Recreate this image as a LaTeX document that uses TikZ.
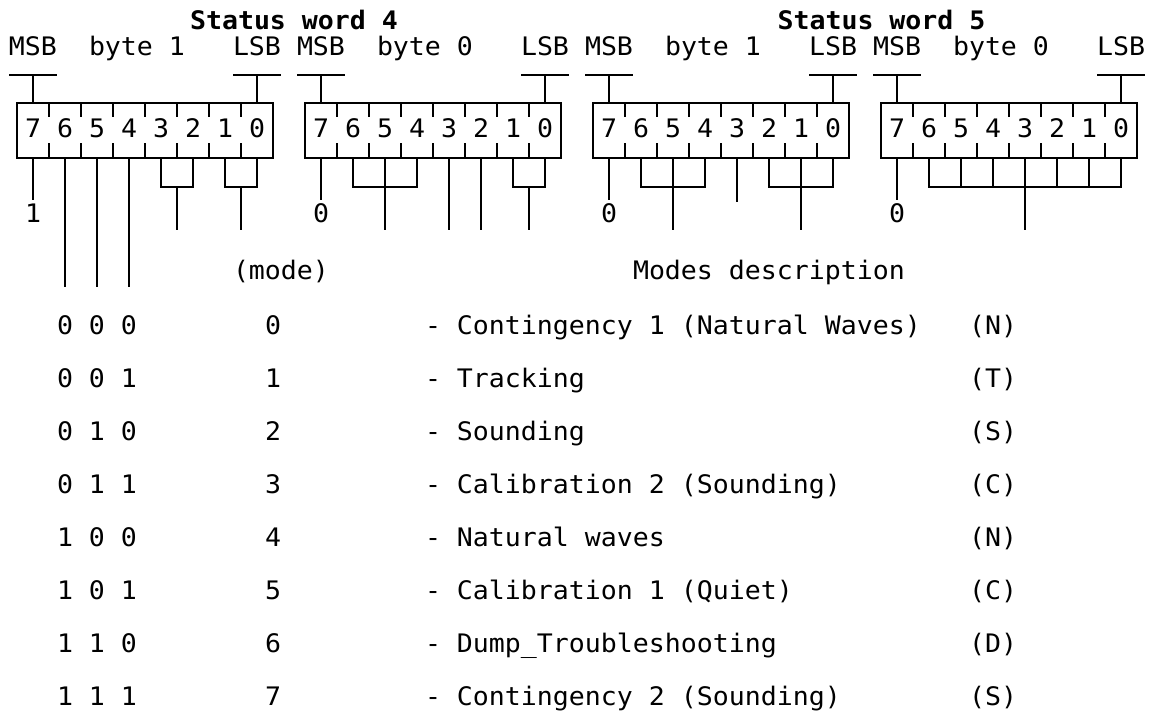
\documentclass[tikz,border=0pt]{standalone}
\usepackage{fontspec}
\newfontfamily\dmono{DejaVu Sans Mono}[FakeStretch=1.042]
\begin{document}
\begin{tikzpicture}[x=1pt,y=-1pt,
  lbl/.style={inner sep=0pt, outer sep=0pt, font=\dmono\fontsize{25.5}{30}\selectfont},
  txt/.style={lbl, anchor=base west},
  ctr/.style={lbl, anchor=base},
  ttl/.style={lbl, anchor=base, font=\dmono\bfseries\fontsize{25.5}{30}\selectfont},
  ln/.style={line width=1.8pt},
  boxnode/.style={draw, ln, minimum width=256pt, minimum height=55pt, inner sep=0pt, outer sep=0pt, anchor=north west}]
\fill[white] (0,0) rectangle (1149,715);
\useasboundingbox (0,0) rectangle (1149,715);

\node[ttl] (sw4) at (294,29) {Status word 4};
\node[ttl] (sw5) at (881.5,29) {Status word 5};

\foreach \g/\byte in {0/1,1/0,2/1,3/0} {
  \pgfmathsetmacro\X{288*\g}
  \node[txt] (msb\g) at (\X+9,55) {MSB};
  \node[txt] (byte\g) at (\X+89,55) {byte \byte};
  \node[txt] (lsb\g) at (\X+233,55) {LSB};
  \node[boxnode] (box\g) at (\X+17,103) {};
  \coordinate (ma\g) at (\X+9,75);
  \coordinate (mb\g) at (\X+57,75);
  \coordinate (mc\g) at (\X+33,75);
  \coordinate (la\g) at (\X+233,75);
  \coordinate (lb\g) at (\X+281,75);
  \coordinate (lc\g) at (\X+257,75);
  \draw[ln] (ma\g) -- (mb\g);
  \draw[ln] (la\g) -- (lb\g);
  \draw[ln] (mc\g) -- (mc\g |- box\g.north);
  \draw[ln] (lc\g) -- (lc\g |- box\g.north);
  \foreach \k in {1,...,7} {
    \draw[ln] ([xshift=32*\k]box\g.north west) -- ++(0,14);
    \draw[ln] ([xshift=32*\k]box\g.south west) -- ++(0,-15);
  }
  \foreach \i in {0,...,7} {
    \pgfmathtruncatemacro\dig{7-\i}
    \node[ctr] (d\g\i) at (\X+33+32*\i,137) {\dig};
    \coordinate (b\g\i) at (\X+33+32*\i,158);
  }
}

% group 0
\coordinate (e0) at (33,200);
\draw[ln] (b00) -- (e0);
\node[ctr] (v0) at (33,222) {1};
\foreach \i/\x in {1/65,2/97,3/129} {
  \coordinate (lo\i) at (\x,287);
  \draw[ln] (b0\i) -- (lo\i);
}
\coordinate (j0a) at (177,187); \coordinate (s0a) at (177,230);
\draw[ln] (b04) |- (j0a) -| (b05); \draw[ln] (j0a) -- (s0a);
\coordinate (j0b) at (241,187); \coordinate (s0b) at (241,230);
\draw[ln] (b06) |- (j0b) -| (b07); \draw[ln] (j0b) -- (s0b);

% group 1
\coordinate (e1) at (321,200); \draw[ln] (b10) -- (e1);
\node[ctr] (v1) at (321,222) {0};
\coordinate (j1a) at (385,187); \coordinate (s1a) at (385,230);
\draw[ln] (b11) |- (j1a) -| (b13); \draw[ln] (b12) -- (s1a);
\coordinate (s1b) at (449,230); \draw[ln] (b14) -- (s1b);
\coordinate (s1c) at (481,230); \draw[ln] (b15) -- (s1c);
\coordinate (j1d) at (529,187); \coordinate (s1d) at (529,230);
\draw[ln] (b16) |- (j1d) -| (b17); \draw[ln] (j1d) -- (s1d);

% group 2
\coordinate (e2) at (609,200); \draw[ln] (b20) -- (e2);
\node[ctr] (v2) at (609,222) {0};
\coordinate (j2a) at (673,187); \coordinate (s2a) at (673,230);
\draw[ln] (b21) |- (j2a) -| (b23); \draw[ln] (b22) -- (s2a);
\coordinate (s2b) at (737,202); \draw[ln] (b24) -- (s2b);
\coordinate (j2c) at (801,187); \coordinate (s2c) at (801,230);
\draw[ln] (b25) |- (j2c) -| (b27); \draw[ln] (b26) -- (s2c);

% group 3
\coordinate (e3) at (897,200); \draw[ln] (b30) -- (e3);
\node[ctr] (v3) at (897,222) {0};
\coordinate (j3) at (1025,187); \coordinate (s3) at (1025,230);
\draw[ln] (b31) |- (j3) -| (b37);
\foreach \i in {2,3,5,6} { \draw[ln] (b3\i) -- (b3\i |- j3); }
\draw[ln] (b34) -- (s3);

% table
\node[txt] (modeh) at (233,279) {(mode)};
\node[txt] (desch) at (633,279) {Modes description};
\foreach \bits/\m/\desc/\code [count=\n from 0] in {
  {0 0 0}/0/{Contingency 1 (Natural Waves)}/{(N)},
  {0 0 1}/1/{Tracking}/{(T)},
  {0 1 0}/2/{Sounding}/{(S)},
  {0 1 1}/3/{Calibration 2 (Sounding)}/{(C)},
  {1 0 0}/4/{Natural waves}/{(N)},
  {1 0 1}/5/{Calibration 1 (Quiet)}/{(C)},
  {1 1 0}/6/{Dump\_Troubleshooting}/{(D)},
  {1 1 1}/7/{Contingency 2 (Sounding)}/{(S)}} {
  \pgfmathsetmacro\Y{334+53*\n}
  \node[txt] (bits\n) at (57,\Y) {\bits};
  \node[txt] (mode\n) at (265,\Y) {\m};
  \node[txt] (desc\n) at (425,\Y) {- \desc};
  \node[txt] (code\n) at (969,\Y) {\code};
}
\end{tikzpicture}
\end{document}
